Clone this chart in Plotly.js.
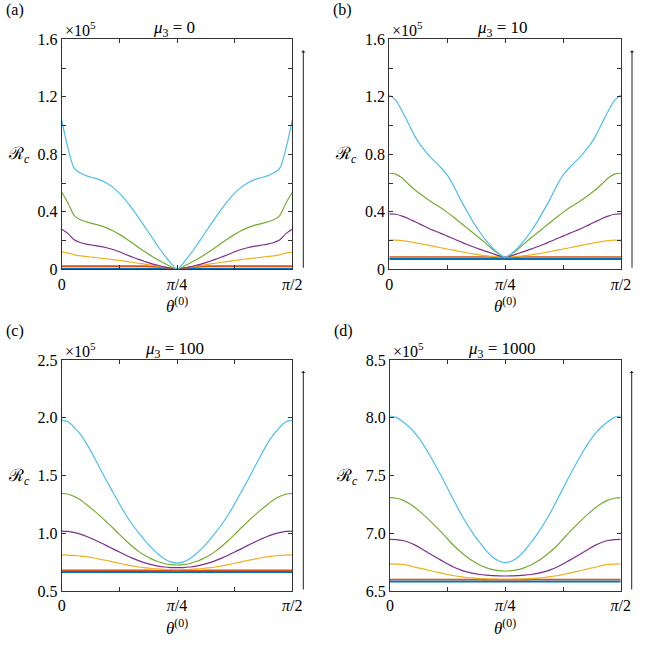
<!DOCTYPE html>
<html>
<head>
<meta charset="utf-8">
<script src="https://cdn.plot.ly/plotly-3.0.1.min.js"></script>
<style>html,body{margin:0;padding:0;background:#fff}#chart{width:664px;height:652px}</style>
</head>
<body>
<div id="chart"></div>
<script>
// theta^(0) in degrees (0 .. 90 = pi/2)
const theta = [0,2.5,5,7.5,10,12.5,15,17.5,20,22.5,25,27.5,30,32.5,35,37.5,40,42.5,45,47.5,50,52.5,55,57.5,60,62.5,65,67.5,70,72.5,75,77.5,80,82.5,85,87.5,90];
const xTickVals = [0,22.5,45,67.5,90];
const xTickText = ['0','','<i>π</i>/4','','<i>π</i>/2'];

// Panel (a) mu3 = 0  (x 1e5)
const a_blue   = [0.004,0.004,0.004,0.004,0.004,0.004,0.004,0.004,0.004,0.004,0.004,0.004,0.004,0.004,0.004,0.004,0.004,0.002,0.0,0.002,0.004,0.004,0.004,0.004,0.004,0.004,0.004,0.004,0.004,0.004,0.004,0.004,0.004,0.004,0.004,0.004,0.004];
const a_orange = [0.022,0.022,0.022,0.022,0.022,0.022,0.022,0.022,0.022,0.022,0.022,0.022,0.022,0.022,0.020,0.017,0.013,0.007,0.0,0.007,0.013,0.017,0.020,0.022,0.022,0.022,0.022,0.022,0.022,0.022,0.022,0.022,0.022,0.022,0.022,0.022,0.022];
const a_yellow = [0.120,0.113,0.100,0.093,0.088,0.083,0.078,0.073,0.067,0.061,0.055,0.049,0.042,0.036,0.029,0.022,0.015,0.008,0.0,0.008,0.015,0.022,0.029,0.036,0.042,0.049,0.055,0.061,0.067,0.073,0.078,0.083,0.088,0.093,0.100,0.113,0.120];
const a_purple = [0.278,0.248,0.203,0.185,0.174,0.167,0.160,0.150,0.138,0.122,0.103,0.086,0.069,0.054,0.040,0.028,0.017,0.008,0.0,0.008,0.017,0.028,0.040,0.054,0.069,0.086,0.103,0.122,0.138,0.150,0.160,0.167,0.174,0.185,0.203,0.248,0.278];
const a_green  = [0.536,0.460,0.372,0.343,0.328,0.316,0.304,0.288,0.268,0.243,0.215,0.184,0.152,0.122,0.093,0.066,0.042,0.020,0.0,0.020,0.042,0.066,0.093,0.122,0.152,0.184,0.215,0.243,0.268,0.288,0.304,0.316,0.328,0.343,0.372,0.460,0.536];
const a_cyan   = [1.040,0.840,0.700,0.668,0.648,0.636,0.622,0.600,0.570,0.530,0.480,0.422,0.360,0.294,0.228,0.162,0.100,0.045,0.0,0.045,0.100,0.162,0.228,0.294,0.360,0.422,0.480,0.530,0.570,0.600,0.622,0.636,0.648,0.668,0.700,0.840,1.040];

// Panel (b) mu3 = 10
const b_blue   = [0.0715,0.0715,0.0715,0.0715,0.0715,0.0715,0.0715,0.0715,0.0715,0.0715,0.0715,0.0715,0.0715,0.0715,0.0715,0.0715,0.0715,0.0715,0.0715,0.0715,0.0715,0.0715,0.0715,0.0715,0.0715,0.0715,0.0715,0.0715,0.0715,0.0715,0.0715,0.0715,0.0715,0.0715,0.0715,0.0715,0.0715];
const b_orange = [0.086,0.086,0.086,0.086,0.086,0.086,0.086,0.086,0.086,0.086,0.086,0.086,0.086,0.086,0.086,0.086,0.085,0.084,0.083,0.084,0.085,0.086,0.086,0.086,0.086,0.086,0.086,0.086,0.086,0.086,0.086,0.086,0.086,0.086,0.086,0.086,0.086];
const b_yellow = [0.204,0.203,0.200,0.193,0.185,0.177,0.168,0.159,0.150,0.141,0.133,0.124,0.115,0.107,0.100,0.095,0.090,0.086,0.084,0.086,0.090,0.095,0.100,0.107,0.115,0.124,0.133,0.141,0.150,0.159,0.168,0.177,0.185,0.193,0.200,0.203,0.204];
const b_purple = [0.385,0.383,0.370,0.352,0.331,0.309,0.287,0.268,0.250,0.231,0.212,0.193,0.174,0.157,0.140,0.125,0.110,0.095,0.083,0.095,0.110,0.125,0.140,0.157,0.174,0.193,0.212,0.231,0.250,0.268,0.287,0.309,0.331,0.352,0.370,0.383,0.385];
const b_green  = [0.668,0.662,0.635,0.592,0.552,0.518,0.485,0.456,0.428,0.396,0.362,0.326,0.290,0.254,0.218,0.180,0.140,0.108,0.083,0.108,0.140,0.180,0.218,0.254,0.290,0.326,0.362,0.396,0.428,0.456,0.485,0.518,0.552,0.592,0.635,0.662,0.668];
const b_cyan   = [1.212,1.175,1.100,1.012,0.923,0.855,0.800,0.752,0.708,0.655,0.580,0.490,0.410,0.332,0.263,0.203,0.150,0.110,0.083,0.110,0.150,0.203,0.263,0.332,0.410,0.490,0.580,0.655,0.708,0.752,0.800,0.855,0.923,1.012,1.100,1.175,1.212];

// Panel (c) mu3 = 100
const c_blue   = [0.665,0.665,0.665,0.665,0.665,0.665,0.665,0.665,0.665,0.665,0.665,0.665,0.665,0.665,0.665,0.665,0.665,0.665,0.665,0.665,0.665,0.665,0.665,0.665,0.665,0.665,0.665,0.665,0.665,0.665,0.665,0.665,0.665,0.665,0.665,0.665,0.665];
const c_orange = [0.679,0.679,0.679,0.679,0.679,0.679,0.679,0.679,0.679,0.679,0.679,0.679,0.679,0.679,0.678,0.678,0.677,0.676,0.676,0.676,0.677,0.678,0.678,0.679,0.679,0.679,0.679,0.679,0.679,0.679,0.679,0.679,0.679,0.679,0.679,0.679,0.679];
const c_yellow = [0.812,0.811,0.808,0.802,0.795,0.786,0.775,0.764,0.752,0.740,0.728,0.717,0.708,0.701,0.695,0.691,0.688,0.686,0.685,0.686,0.688,0.691,0.695,0.701,0.708,0.717,0.728,0.740,0.752,0.764,0.775,0.786,0.795,0.802,0.808,0.811,0.812];
const c_purple = [1.019,1.016,1.005,0.990,0.970,0.946,0.920,0.893,0.865,0.837,0.810,0.785,0.763,0.744,0.728,0.716,0.708,0.703,0.702,0.703,0.708,0.716,0.728,0.744,0.763,0.785,0.810,0.837,0.865,0.893,0.920,0.946,0.970,0.990,1.005,1.016,1.019];
const c_green  = [1.345,1.338,1.318,1.285,1.243,1.198,1.150,1.098,1.045,0.990,0.937,0.888,0.843,0.807,0.778,0.755,0.738,0.728,0.725,0.728,0.738,0.755,0.778,0.807,0.843,0.888,0.937,0.990,1.045,1.098,1.150,1.198,1.243,1.285,1.318,1.338,1.345];
const c_cyan   = [1.980,1.965,1.915,1.850,1.765,1.665,1.560,1.455,1.355,1.255,1.160,1.078,1.005,0.937,0.875,0.822,0.780,0.752,0.742,0.752,0.780,0.822,0.875,0.937,1.005,1.078,1.160,1.255,1.355,1.455,1.560,1.665,1.765,1.850,1.915,1.965,1.980];

// Panel (d) mu3 = 1000
const d_blue   = [6.583,6.583,6.583,6.583,6.583,6.583,6.583,6.583,6.583,6.583,6.583,6.583,6.583,6.583,6.583,6.583,6.583,6.583,6.583,6.583,6.583,6.583,6.583,6.583,6.583,6.583,6.583,6.583,6.583,6.583,6.583,6.583,6.583,6.583,6.583,6.583,6.583];
const d_orange = [6.600,6.600,6.600,6.600,6.600,6.600,6.600,6.600,6.600,6.600,6.600,6.599,6.599,6.599,6.599,6.598,6.598,6.598,6.598,6.598,6.598,6.598,6.599,6.599,6.599,6.599,6.600,6.600,6.600,6.600,6.600,6.600,6.600,6.600,6.600,6.600,6.600];
const d_yellow = [6.734,6.733,6.730,6.720,6.705,6.693,6.680,6.667,6.655,6.643,6.632,6.624,6.617,6.612,6.608,6.606,6.605,6.604,6.604,6.604,6.605,6.606,6.608,6.612,6.617,6.624,6.632,6.643,6.655,6.667,6.680,6.693,6.705,6.720,6.730,6.733,6.734];
const d_purple = [6.947,6.945,6.937,6.920,6.895,6.864,6.830,6.797,6.765,6.733,6.705,6.683,6.665,6.652,6.643,6.637,6.633,6.631,6.630,6.631,6.633,6.637,6.643,6.652,6.665,6.683,6.705,6.733,6.765,6.797,6.830,6.864,6.895,6.920,6.937,6.945,6.947];
const d_green  = [7.308,7.303,7.287,7.258,7.218,7.172,7.120,7.066,7.010,6.950,6.890,6.840,6.795,6.757,6.725,6.702,6.685,6.676,6.673,6.676,6.685,6.702,6.725,6.757,6.795,6.840,6.890,6.950,7.010,7.066,7.120,7.172,7.218,7.258,7.287,7.303,7.308];
const d_cyan   = [8.015,8.003,7.965,7.920,7.860,7.785,7.695,7.598,7.495,7.388,7.280,7.175,7.080,6.995,6.920,6.850,6.795,6.760,6.745,6.760,6.795,6.850,6.920,6.995,7.080,7.175,7.280,7.388,7.495,7.598,7.695,7.785,7.860,7.920,7.965,8.003,8.015];

const panelTitles = ['<i>μ</i><sub>3</sub> = 0','<i>μ</i><sub>3</sub> = 10','<i>μ</i><sub>3</sub> = 100','<i>μ</i><sub>3</sub> = 1000'];
const panelLetters = ['(a)','(b)','(c)','(d)'];

const yTickA = {vals:[0,0.2,0.4,0.6,0.8,1.0,1.2,1.4,1.6], text:['0','','0.4','','0.8','','1.2','','1.6']};
const yTickC = {vals:[0.5,1.0,1.5,2.0,2.5], text:['0.5','1.0','1.5','2.0','2.5']};
const yTickD = {vals:[6.5,7.0,7.5,8.0,8.5], text:['6.5','7.0','7.5','8.0','8.5']};

const colors = {blue:'#0072BD', orange:'#D95319', yellow:'#EDB120', purple:'#7E2F8E', green:'#77AC30', cyan:'#4DBEEE'};

const W = 664, H = 652;
const FONT = 'Liberation Serif';

const panels = [
  {sets:[a_blue,a_orange,a_yellow,a_purple,a_green,a_cyan], xs:[61.7,292.3], ys:[39.3,269.3], range:[0,1.6], ticks:yTickA},
  {sets:[b_blue,b_orange,b_yellow,b_purple,b_green,b_cyan], xs:[389.3,621.0], ys:[39.3,269.3], range:[0,1.6], ticks:yTickA},
  {sets:[c_blue,c_orange,c_yellow,c_purple,c_green,c_cyan], xs:[61.7,292.3], ys:[360,591], range:[0.5,2.5], ticks:yTickC},
  {sets:[d_blue,d_orange,d_yellow,d_purple,d_green,d_cyan], xs:[390,620.7], ys:[360,591], range:[6.5,8.5], ticks:yTickD}
];
const order = ['blue','orange','yellow','purple','green','cyan'];

const data = [];
const layout = {
  width: W, height: H,
  margin:{l:0,r:0,t:0,b:0},
  paper_bgcolor:'#fff', plot_bgcolor:'#fff',
  showlegend:false,
  font:{family:FONT, size:16, color:'#000'},
  annotations:[]
};

panels.forEach((p, i) => {
  const n = i + 1;
  const xa = n === 1 ? 'x' : 'x' + n;
  const ya = n === 1 ? 'y' : 'y' + n;
  p.sets.forEach((vals, k) => {
    data.push({
      x: theta, y: vals, xaxis: xa, yaxis: ya,
      type:'scatter', mode:'lines',
      line:{color: colors[order[k]], width: order[k]==='blue' ? 2 : (order[k]==='orange' ? 1.6 : 1.2), shape:'spline', smoothing:0.9},
      hoverinfo:'skip'
    });
  });
  const common = {
    showline:true, linecolor:'#333', linewidth:1, mirror:'ticks',
    ticks:'inside', ticklen:4, tickwidth:1, tickcolor:'#333',
    showgrid:false, zeroline:false, fixedrange:true,
    tickfont:{family:FONT, size:16, color:'#000'}
  };
  layout['xaxis' + (n===1?'':n)] = Object.assign({}, common, {
    domain:[p.xs[0]/W, p.xs[1]/W], range:[0,90], anchor: ya,
    tickmode:'array', tickvals:xTickVals, ticktext:xTickText
  });
  layout['yaxis' + (n===1?'':n)] = Object.assign({}, common, {
    domain:[1 - p.ys[1]/H, 1 - p.ys[0]/H], range:p.range, anchor: xa,
    tickmode:'array', tickvals:p.ticks.vals, ticktext:p.ticks.text
  });
  const cx = (p.xs[0] + p.xs[1]) / 2;
  const top = p.ys[0], bot = p.ys[1];
  const ann = layout.annotations;
  const px = v => v / W, py = v => 1 - v / H;
  ann.push({xref:'paper', yref:'paper', x:px(p.xs[0] - 47), y:py(top - 29), text:panelLetters[i], showarrow:false, xanchor:'center', yanchor:'middle', font:{family:FONT, size:16}});
  ann.push({xref:'paper', yref:'paper', x:px(cx - 3), y:py(top - 10), text:panelTitles[i], showarrow:false, xanchor:'center', yanchor:'middle', font:{family:FONT, size:17}});
  ann.push({xref:'paper', yref:'paper', x:px(p.xs[0] + 1), y:py(top - 10), text:'×10<sup>5</sup>', showarrow:false, xanchor:'left', yanchor:'middle', font:{family:FONT, size:16}});
  ann.push({xref:'paper', yref:'paper', x:px(p.xs[0] - 43), y:py((top + bot) / 2 + 1), text:'ℛ<sub><i>c</i></sub>', showarrow:false, xanchor:'center', yanchor:'middle', font:{family:FONT, size:17}});
  ann.push({xref:'paper', yref:'paper', x:px(cx), y:py(bot + 36), text:'<i>θ</i><sup>(0)</sup>', showarrow:false, xanchor:'center', yanchor:'middle', font:{family:FONT, size:17}});
  ann.push({xref:'paper', yref:'paper', x:px(p.xs[1] + 11), y:py(top + 11), ax:0, ay:(bot - top - 11), axref:'pixel', ayref:'pixel', text:'', showarrow:true, arrowhead:1, arrowsize:0.7, arrowwidth:1, arrowcolor:'#222', standoff:0});
});

Plotly.newPlot('chart', data, layout, {staticPlot:true, displayModeBar:false});
</script>
</body>
</html>
